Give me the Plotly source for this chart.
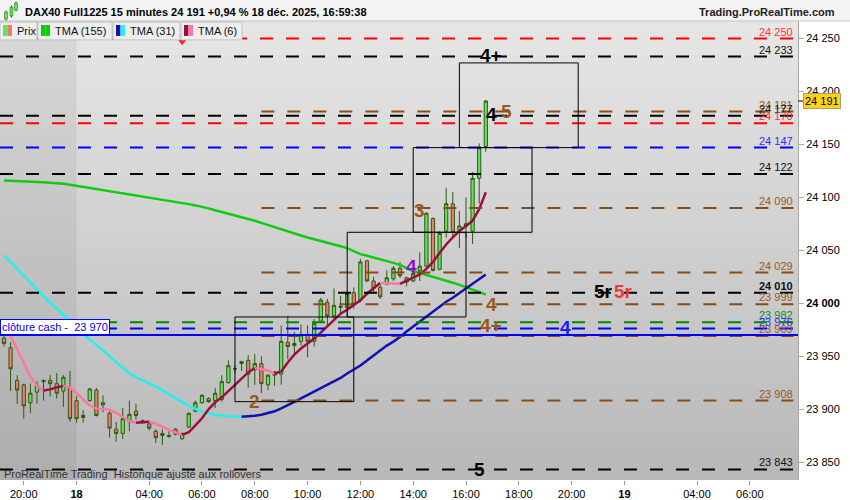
import pandas as pd
import plotly.graph_objects as go

# ---- time axis: 15 min bars, the night gap is removed
sessions = [("2025-12-17 19:15", "2025-12-17 21:45"),
            ("2025-12-18 01:15", "2025-12-18 21:45"),
            ("2025-12-19 01:15", "2025-12-19 07:30")]
timeline = pd.DatetimeIndex(sum([list(pd.date_range(a, b, freq="15min")) for a, b in sessions], []))
pos = {t: i for i, t in enumerate(timeline)}

tick_times = ["2025-12-17 20:00", "2025-12-18 01:15", "2025-12-18 04:00", "2025-12-18 06:00",
              "2025-12-18 08:00", "2025-12-18 10:00", "2025-12-18 12:00", "2025-12-18 14:00",
              "2025-12-18 16:00", "2025-12-18 18:00", "2025-12-18 20:00", "2025-12-19 01:15",
              "2025-12-19 04:00", "2025-12-19 06:00"]
tick_labels = ["20:00", "<b>18</b>", "04:00", "06:00", "08:00", "10:00", "12:00", "14:00",
               "16:00", "18:00", "20:00", "<b>19</b>", "04:00", "06:00"]

# ---- DAX40 15 min candles
opens = [23967, 23958, 23927, 23923, 23906, 23916, 23927, 23927, 23924, 23917,
         23920, 23908, 23894, 23908, 23918, 23906, 23896, 23881, 23877, 23888,
         23898, 23888, 23886, 23879, 23877, 23874, 23881, 23872, 23883, 23898,
         23906, 23910, 23908, 23909, 23925, 23938, 23943, 23946, 23937, 23943,
         23923, 23935, 23933, 23963, 23960, 23964, 23970, 23964, 23983, 24001,
         23988, 23996, 23996, 24010, 24003, 24040, 24021, 24015, 24018, 24023,
         24033, 24024, 24021, 24031, 24035, 24080, 24032, 24068, 24094, 24069,
         24073, 24068, 24118, 24148]
highs = [23969, 23963, 23932, 23924, 23924, 23926, 23928, 23932, 23934, 23932,
         23936, 23912, 23899, 23920, 23920, 23913, 23898, 23888, 23901, 23908,
         23905, 23890, 23888, 23881, 23881, 23879, 23882, 23878, 23897, 23908,
         23914, 23911, 23920, 23932, 23946, 23941, 23945, 23951, 23952, 23950,
         23933, 23936, 23979, 23988, 23973, 23980, 23979, 23985, 24005, 24004,
         24014, 24007, 24010, 24015, 24042, 24041, 24025, 24018, 24031, 24035,
         24039, 24025, 24029, 24048, 24086, 24081, 24068, 24109, 24105, 24087,
         24100, 24124, 24151, 24192]
lows = [23959, 23917, 23905, 23891, 23896, 23905, 23908, 23912, 23910, 23902,
        23888, 23887, 23887, 23907, 23893, 23897, 23873, 23869, 23872, 23879,
        23890, 23886, 23880, 23868, 23866, 23873, 23875, 23871, 23882, 23897,
        23905, 23906, 23901, 23907, 23924, 23934, 23936, 23920, 23923, 23915,
        23918, 23922, 23923, 23947, 23952, 23960, 23949, 23959, 23982, 23979,
        23985, 23989, 23987, 23995, 24001, 24020, 24009, 24004, 24017, 24021,
        24024, 24016, 24020, 24021, 24034, 24030, 24031, 24062, 24062, 24052,
        24062, 24056, 24094, 24143]
closes = [23962, 23938, 23918, 23903, 23915, 23922, 23926, 23924, 23915, 23930,
          23891, 23891, 23892, 23919, 23894, 23904, 23882, 23877, 23891, 23895,
          23894, 23889, 23882, 23873, 23875, 23875, 23876, 23877, 23896, 23906,
          23913, 23907, 23915, 23926, 23941, 23938, 23945, 23933, 23943, 23924,
          23932, 23932, 23964, 23959, 23962, 23970, 23964, 23981, 24003, 23988,
          23998, 23997, 24009, 23999, 24039, 24021, 24014, 24006, 24024, 24033,
          24026, 24020, 24028, 24035, 24085, 24031, 24066, 24094, 24067, 24073,
          24075, 24118, 24147, 24191]

# ---- moving averages (TMA)
tma155 = [24116.0, 24115.8, 24115.6, 24115.4, 24115.2, 24114.7, 24114.3, 24113.9, 24113.5, 24112.8,
          24111.9, 24110.9, 24110.0, 24109.1, 24108.1, 24107.2, 24106.3, 24105.2, 24104.3, 24103.2,
          24102.2, 24101.3, 24100.2, 24099.2, 24098.1, 24096.9, 24095.8, 24094.7, 24093.6, 24092.4,
          24091.2, 24089.6, 24087.9, 24086.3, 24084.7, 24083.1, 24081.5, 24079.9, 24077.9, 24075.9,
          24073.8, 24071.7, 24069.7, 24067.8, 24065.9, 24064.0, 24062.1, 24060.3, 24058.7, 24057.1,
          24055.4, 24053.8, 24052.1, 24049.3, 24046.4, 24044.8, 24043.3, 24041.7, 24039.9, 24038.1,
          24036.2, 24032.8, 24030.2, 24028.5, 24026.8, 24025.0, 24023.1, 24021.2, 24019.4, 24017.3,
          24015.4, 24012.8, 24010.7, 24008.2]
tma31 = [24044.6, 24039.0, 24032.4, 24025.8, 24019.2, 24012.7, 24006.1, 24000.4, 23994.8, 23989.1,
         23983.5, 23977.8, 23971.3, 23965.6, 23960.9, 23955.3, 23949.6, 23944.0, 23938.3, 23933.6,
         23929.9, 23927.0, 23924.2, 23921.4, 23917.6, 23913.9, 23910.1, 23906.4, 23903.1, 23900.2,
         23897.9, 23896.0, 23894.6, 23893.7, 23893.2, 23892.9, 23892.7, 23893.0, 23893.7, 23894.6,
         23896.0, 23897.9, 23900.7, 23903.5, 23906.8, 23910.1, 23913.4, 23916.7, 23920.0, 23923.3,
         23926.1, 23929.4, 23933.6, 23937.4, 23941.2, 23945.9, 23950.6, 23955.3, 23960.0, 23963.7,
         23968.0, 23973.2, 23977.9, 23982.6, 23987.3, 23992.0, 23996.7, 24001.4, 24005.1, 24009.4,
         24013.6, 24017.8, 24022.5, 24027.2]
tma6 = [None, 23969.4, 23956.2, 23943.0, 23930.8, 23921.4, 23917.6, 23918.6, 23920.5, 23921.9,
        23920.5, 23914.8, 23909.2, 23903.5, 23900.2, 23899.8, 23899.3, 23896.5, 23892.2, 23888.5,
        23887.1, 23887.5, 23888.0, 23886.1, 23883.3, 23880.5, 23877.6, 23875.6, 23878.1, 23884.7,
        23891.3, 23899.8, 23906.4, 23911.1, 23917.2, 23922.4, 23928.9, 23934.6, 23938.8, 23937.9,
        23936.5, 23933.6, 23935.5, 23944.0, 23951.5, 23957.2, 23961.9, 23966.6, 23972.2, 23978.3,
        23984.9, 23990.1, 23993.8, 23998.1, 24002.8, 24008.9, 24014.5, 24019.2, 24018.8, 24018.6,
        24018.3, 24021.1, 24023.9, 24027.2, 24032.4, 24039.0, 24047.5, 24055.5, 24062.1, 24068.2,
        24072.9, 24078.0, 24088.8, 24104.8]

# ---- horizontal levels drawn on the chart
level_prices = [24250, 24233, 24181, 24177, 24170, 24147, 24122, 24090, 24029,
                24010, 23999, 23982, 23976, 23969, 23908, 23843]
level_colors = ["red", "black", "brown", "black", "red", "blue", "black", "brown", "brown",
                "black", "brown", "green", "blue", "brown", "brown", "black"]
cash_close = 23970

# boxes: start, end, low, high
boxes = [("2025-12-18 07:15", "2025-12-18 11:45", 23907, 23987),
         ("2025-12-18 11:30", "2025-12-18 16:00", 23987, 24067),
         ("2025-12-18 14:00", "2025-12-18 18:30", 24067, 24147),
         ("2025-12-18 15:45", "2025-12-18 20:15", 24147, 24227)]

# wave counts written on the chart: text, bar position, price, colour
wave_marks = [("4+", 73.8, 24234, "black"), ("4", 73.9, 24178, "black"), ("5", 76.1, 24181, "brown"),
              ("3", 63.0, 24088, "brown"), ("4", 61.8, 24035, "purple"), ("2", 37.9, 23907, "brown"),
              ("4", 73.8, 23999, "brown"), ("4+", 73.8, 23979, "brown"), ("5r", 90.9, 24011, "black"),
              ("5r", 93.9, 24011, "red"), ("4", 85.0, 23977, "blue"), ("5", 72.0, 23843, "black")]
signal_time, signal_price = "2025-12-18 05:15", 24247

last_price = 24191

# ---- styles
FONT = "Liberation Sans, Arial, sans-serif"
LINE_COL = {"red": "#ff0000", "black": "#000000", "brown": "#8b4a12", "blue": "#0000ff", "green": "#008a00"}
TEXT_COL = {"red": "#ff3535", "black": "#111111", "brown": "#9a5a22", "blue": "#2a2aff", "green": "#1a8a1a"}
MARK_COL = {"red": "#f03a3a", "black": "#000000", "brown": "#995720", "blue": "#1a1aff", "purple": "#8a10d0"}
UP, DOWN, WICK = "#62e35a", "#f07a6c", "#2b5a12"

W, H, TOP = 798, 461, 21
XMIN, XMAX = -0.6, 120.3
YMIN, YMAX = 23833.0, 24266.6
brown_from = pos[pd.Timestamp("2025-12-18 08:15")]


def px(x):
    return x / W


def py(y):
    return (TOP + H - y) / H


xb = [pos[t] for t in timeline[:len(opens)]]

fig = go.Figure()

fig.add_trace(go.Candlestick(
    x=xb, open=opens, high=highs, low=lows, close=closes,
    increasing=dict(line=dict(color=WICK, width=1), fillcolor=UP),
    decreasing=dict(line=dict(color=WICK, width=1), fillcolor=DOWN),
    whiskerwidth=0, showlegend=False, hoverinfo="skip"))


def add_two_tone(vals, up_col, down_col, width):
    pts = [(x, v) for x, v in zip(xb, vals) if v is not None]
    ups = [pts[i + 1][1] >= pts[i][1] for i in range(len(pts) - 1)]
    a = 0
    for i in range(1, len(ups) + 1):
        if i == len(ups) or ups[i] != ups[a]:
            seg = pts[a:i + 1]
            fig.add_trace(go.Scatter(x=[p[0] for p in seg], y=[p[1] for p in seg], mode="lines",
                                     line=dict(color=up_col if ups[a] else down_col, width=width),
                                     showlegend=False, hoverinfo="skip"))
            a = i


fig.add_trace(go.Scatter(x=xb, y=tma155, mode="lines", line=dict(color="#10cc10", width=2.5),
                         showlegend=False, hoverinfo="skip"))
add_two_tone(tma31, "#1212b0", "#22f0f0", 2.5)
add_two_tone(tma6, "#9a0f3c", "#fb77a2", 2.5)

fig.add_trace(go.Scatter(x=[pos[pd.Timestamp(signal_time)]], y=[signal_price], mode="markers",
                         marker=dict(symbol="triangle-down", size=7, color="#ff2020"),
                         showlegend=False, hoverinfo="skip"))

shapes = []
# plot background gradient
n = 40
for k in range(n):
    g = int(184 + (231 - 184) * (k + 0.5) / n)
    shapes.append(dict(type="rect", xref="paper", yref="paper", x0=0, x1=1, y0=k / n, y1=(k + 1.02) / n,
                       fillcolor=f"rgb({g},{g},{g})", line=dict(width=0), layer="below"))
# previous day shading
shapes.append(dict(type="rect", xref="x", yref="paper", x0=XMIN, x1=pos[pd.Timestamp("2025-12-18 01:15")],
                   y0=0, y1=1, fillcolor="rgba(0,0,0,0.06)", line=dict(width=0), layer="below"))

for p, c in zip(level_prices, level_colors):
    shapes.append(dict(type="line", xref="x", yref="y", x0=brown_from if c == "brown" else XMIN,
                       x1=XMAX - 0.7, y0=p, y1=p, layer="above",
                       line=dict(color=LINE_COL[c], width=2, dash="13px,13px")))
shapes.append(dict(type="line", xref="paper", yref="y", x0=0, x1=1, y0=cash_close, y1=cash_close,
                   layer="above", line=dict(color="#0000ff", width=2)))

for t0, t1, lo, hi in boxes:
    shapes.append(dict(type="rect", xref="x", yref="y", x0=pos[pd.Timestamp(t0)], x1=pos[pd.Timestamp(t1)],
                       y0=lo, y1=hi, layer="above", line=dict(color="#000000", width=1)))

# header bar, legend boxes
shapes.append(dict(type="rect", xref="paper", yref="paper", x0=0, x1=px(850), y0=py(21), y1=py(0),
                   fillcolor="#f3f3f3", line=dict(width=0)))
shapes.append(dict(type="line", xref="paper", yref="paper", x0=0, x1=px(850), y0=py(21), y1=py(21),
                   line=dict(color="#c4c4c4", width=1)))
legend_boxes = [(0, 37, "Prix", (UP, DOWN)), (38, 112, "TMA (155)", ("#10cc10", "#10cc10")),
                (113, 180, "TMA (31)", ("#1212b0", "#22f0f0")), (181, 242, "TMA (6)", ("#9a0f3c", "#fb77a2"))]
annotations = []
for x0, x1, name, (c1, c2) in legend_boxes:
    shapes.append(dict(type="rect", xref="paper", yref="paper", x0=px(x0), x1=px(x1), y0=py(40), y1=py(22),
                       fillcolor="#eeeeee", line=dict(color="#c0c0c0", width=1), layer="above"))
    shapes.append(dict(type="rect", xref="paper", yref="paper", x0=px(x0 + 3), x1=px(x0 + 7.5),
                       y0=py(36), y1=py(25), fillcolor=c1, line=dict(width=0), layer="above"))
    shapes.append(dict(type="rect", xref="paper", yref="paper", x0=px(x0 + 7.5), x1=px(x0 + 12),
                       y0=py(36), y1=py(25), fillcolor=c2, line=dict(width=0), layer="above"))
    annotations.append(dict(xref="paper", yref="paper", x=px(x0 + 15), y=py(31), text=name, showarrow=False,
                            xanchor="left", yanchor="middle", font=dict(family=FONT, size=11, color="#111")))

# little candle icon in the header
for cx, top, bot in [(6, 12, 19), (11.5, 7, 16), (16, 3, 10)]:
    shapes.append(dict(type="line", xref="paper", yref="paper", x0=px(cx), x1=px(cx), y0=py(bot + 1.5),
                       y1=py(top - 1.5), line=dict(color=WICK, width=1)))
    shapes.append(dict(type="rect", xref="paper", yref="paper", x0=px(cx - 1.5), x1=px(cx + 1.5),
                       y0=py(bot), y1=py(top), fillcolor=UP, line=dict(color=WICK, width=0.5)))

# current price tick on the axis
shapes.append(dict(type="line", xref="paper", yref="y", x0=1, x1=px(W + 5), y0=last_price, y1=last_price,
                   line=dict(color="#000", width=1)))

annotations.append(dict(xref="paper", yref="paper", x=px(23), y=py(11.5), showarrow=False, xanchor="left",
                        yanchor="middle", font=dict(family=FONT, size=11, color="#000"),
                        text="<b>DAX40 Full1225 15 minutes 24 191 +0,94 % 18 déc. 2025, 16:59:38</b>"))
annotations.append(dict(xref="paper", yref="paper", x=px(837), y=py(11.5), showarrow=False, xanchor="right",
                        yanchor="middle", font=dict(family=FONT, size=11, color="#222"),
                        text="<b>Trading.ProRealTime.com</b>"))

for p, c in zip(level_prices, level_colors):
    label = f"{p:,}".replace(",", " ")
    if p == 24010:
        label = f"<b>{label}</b>"
    annotations.append(dict(xref="paper", yref="y", x=px(795), y=p, text=label, showarrow=False,
                            xanchor="right", yanchor="bottom", yshift=-1,
                            font=dict(family=FONT, size=11, color=TEXT_COL[c])))

for txt, xp, p, c in wave_marks:
    annotations.append(dict(xref="x", yref="y", x=xp, y=p, text=f"<b>{txt}</b>", showarrow=False,
                            xanchor="center", yanchor="middle",
                            font=dict(family=FONT, size=19, color=MARK_COL[c])))

annotations.append(dict(xref="paper", yref="y", x=0, y=cash_close, showarrow=False, xanchor="left",
                        yanchor="bottom", text="clôture cash -  23 970", bgcolor="#ffffff",
                        bordercolor="#0000ff", borderwidth=1, borderpad=1,
                        font=dict(family=FONT, size=11, color="#0000ee")))
annotations.append(dict(xref="paper", yref="paper", x=px(2), y=py(476), showarrow=False, xanchor="left",
                        yanchor="middle", text="ProRealTime Trading  Historique ajusté aux rollovers",
                        font=dict(family=FONT, size=11, color="#333333")))
annotations.append(dict(xref="paper", yref="y", x=px(W + 5), y=last_price, showarrow=False, xanchor="left",
                        yanchor="middle", text="24 191", bgcolor="#ffd21a", bordercolor="#b0a060",
                        borderwidth=1, borderpad=1, font=dict(family=FONT, size=11, color="#000")))

y_ticks = list(range(23850, 24251, 50))
y_text = [f"{v:,}".replace(",", " ") for v in y_ticks]
y_text = [f"<b>{s}</b>" if v == 24000 else s for v, s in zip(y_ticks, y_text)]

fig.update_layout(
    width=850, height=500,
    margin=dict(l=0, r=850 - W, t=TOP, b=500 - TOP - H),
    paper_bgcolor="#ffffff", plot_bgcolor="#d0d0d0",
    showlegend=False,
    shapes=shapes, annotations=annotations,
    xaxis=dict(range=[XMIN, XMAX], showgrid=False, zeroline=False, rangeslider=dict(visible=False),
               tickvals=[pos[pd.Timestamp(t)] for t in tick_times], ticktext=tick_labels,
               ticks="outside", ticklen=4, tickcolor="#999", tickfont=dict(family=FONT, size=11, color="#000")),
    yaxis=dict(range=[YMIN, YMAX], side="right", showgrid=False, zeroline=False,
               tickvals=y_ticks, ticktext=y_text, ticks="outside", ticklen=5, tickcolor="#aaa",
               showline=True, linecolor="#a8a8a8", linewidth=1,
               tickfont=dict(family=FONT, size=11, color="#000")),
)

# page margin off so the 850x500 figure fills the window
fig.write_html("out.html", config={"displayModeBar": False},
               post_script="document.body.style.margin='0';document.body.style.overflow='hidden';")
